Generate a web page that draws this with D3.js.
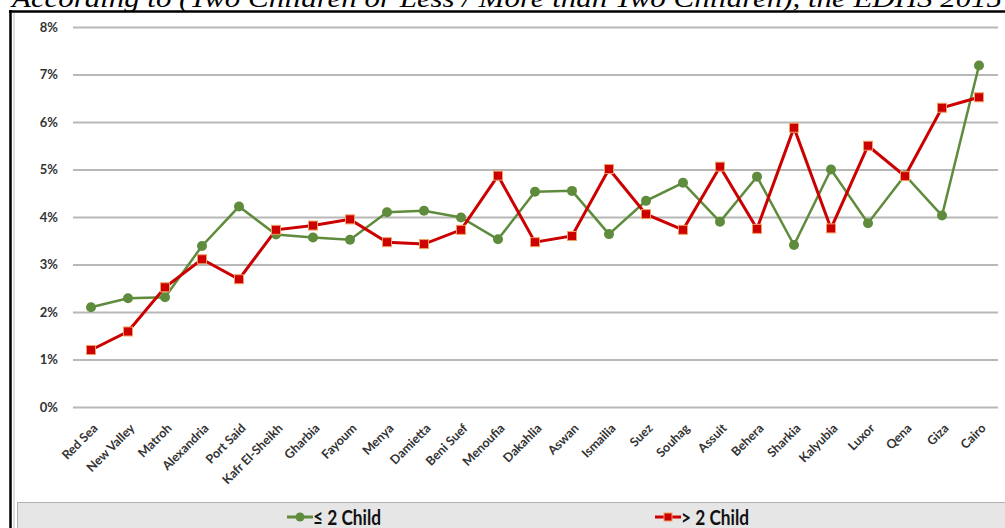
<!DOCTYPE html>
<html>
<head>
<meta charset="utf-8">
<script src="https://cdn.jsdelivr.net/npm/d3@7"></script>
<style>
  body { margin: 0; background: #fff; }
  svg { display: block; }
  .axis text { font-family: Lato, 'Open Sans', sans-serif; font-weight: bold; fill: #333; }
</style>
</head>
<body>
<div id="chart-area"></div>
<script>
const governorates = ['Red Sea', 'New Valley', 'Matroh', 'Alexandria', 'Port Said', 'Kafr El-Sheikh', 'Gharbia',
  'Fayoum', 'Menya', 'Damietta', 'Beni Suef', 'Menoufia', 'Dakahlia', 'Aswan', 'Ismailia', 'Suez', 'Souhag',
  'Assuit', 'Behera', 'Sharkia', 'Kalyubia', 'Luxor', 'Qena', 'Giza', 'Cairo'];
const twoOrLess = [2.10, 2.29, 2.31, 3.39, 4.22, 3.63, 3.57, 3.52, 4.10, 4.13, 3.99, 3.53, 4.53, 4.55, 3.64,
  4.34, 4.72, 3.90, 4.85, 3.41, 5.00, 3.87, 4.88, 4.03, 7.19];
const moreThanTwo = [1.20, 1.59, 2.52, 3.11, 2.69, 3.73, 3.82, 3.95, 3.47, 3.43, 3.73, 4.87, 3.47, 3.60, 5.01,
  4.06, 3.73, 5.06, 3.75, 5.88, 3.76, 5.50, 4.86, 6.30, 6.52];
const yTicks = [0, 1, 2, 3, 4, 5, 6, 7, 8];
const titleText = 'According to (Two Children or Less / More than Two Children), the EDHS 2015';

const chartSize = { width: 1005, height: 528 };
const plot = { left: 73, right: 998, top: 27, bottom: 407 };
const green = '#5e8c3c';
const red = '#cc0000';

const svg = d3.select('#chart-area').append('svg')
  .attr('width', chartSize.width)
  .attr('height', chartSize.height);

// title, cut off by the top of the page as in the source
svg.append('text')
  .attr('x', 12).attr('y', 7)
  .attr('textLength', 990)
  .attr('lengthAdjust', 'spacingAndGlyphs')
  .style('font-family', "'Liberation Serif', 'DejaVu Serif', serif")
  .style('font-style', 'italic')
  .style('font-size', '26px')
  .text(titleText);

// frame
svg.append('line').attr('x1', 9).attr('x2', 1005).attr('y1', 11.5).attr('y2', 11.5)
  .attr('stroke', '#000').attr('stroke-width', 2.5);
svg.append('line').attr('x1', 10.5).attr('x2', 10.5).attr('y1', 10).attr('y2', 528)
  .attr('stroke', '#000').attr('stroke-width', 2.5);
svg.append('line').attr('x1', 14).attr('x2', 14).attr('y1', 13).attr('y2', 528)
  .attr('stroke', '#bbb').attr('stroke-width', 1);

const x = d3.scalePoint()
  .domain(governorates)
  .range([91, 979]);

const y = d3.scaleLinear()
  .domain([0, 8])
  .range([plot.bottom, plot.top]);

// gridlines + y labels
const yAxis = d3.axisLeft(y)
  .tickValues(yTicks)
  .tickFormat(d => d + '%')
  .tickSize(-(plot.right - plot.left))
  .tickPadding(15);
const yG = svg.append('g')
  .attr('class', 'y axis')
  .attr('transform', `translate(${plot.left},0)`)
  .call(yAxis);
yG.select('.domain').remove();
yG.selectAll('.tick line').attr('stroke', '#b8b8b8').attr('stroke-width', 2);
yG.selectAll('.tick text').style('font-size', '13px');

// x labels
const xAxis = d3.axisBottom(x).tickSize(0);
const xG = svg.append('g')
  .attr('class', 'x axis')
  .attr('transform', `translate(0,${plot.bottom})`)
  .call(xAxis);
xG.select('.domain').remove();
xG.selectAll('.tick text')
  .style('font-size', '12.5px')
  .attr('text-anchor', 'end')
  .attr('y', 0)
  .attr('dy', 0)
  .attr('transform', 'translate(7,22) rotate(-45)');

const line = d3.line().x((d, i) => x(governorates[i])).y(d => y(d));

svg.append('path')
  .attr('d', line(twoOrLess))
  .attr('fill', 'none')
  .attr('stroke', green)
  .attr('stroke-width', 2.5);

svg.append('path')
  .attr('d', line(moreThanTwo))
  .attr('fill', 'none')
  .attr('stroke', red)
  .attr('stroke-width', 3);

svg.append('g').selectAll('circle')
  .data(twoOrLess)
  .enter().append('circle')
  .attr('cx', (d, i) => x(governorates[i]))
  .attr('cy', d => y(d))
  .attr('r', 5)
  .attr('fill', green);

svg.append('g').selectAll('rect')
  .data(moreThanTwo)
  .enter().append('rect')
  .attr('x', (d, i) => x(governorates[i]) - 4.5)
  .attr('y', d => y(d) - 4.5)
  .attr('width', 9)
  .attr('height', 9)
  .attr('fill', red)
  .attr('stroke', '#f0a060')
  .attr('stroke-width', 1);

// legend
svg.append('rect')
  .attr('x', 17.5).attr('y', 502.5)
  .attr('width', 1000).attr('height', 40)
  .attr('fill', '#e6e6e6')
  .attr('stroke', '#b0b0b0');

const legendItems = [
  { label: '≤ 2 Child', color: green, shape: 'circle', x: 287 },
  { label: '> 2 Child', color: red, shape: 'square', x: 655 }
];
const lg = svg.append('g').selectAll('g')
  .data(legendItems)
  .enter().append('g')
  .attr('transform', d => `translate(${d.x},517)`);
lg.append('line').attr('x1', 0).attr('x2', 26)
  .attr('stroke', d => d.color).attr('stroke-width', 3);
lg.filter(d => d.shape === 'circle').append('circle')
  .attr('cx', 13).attr('r', 4.5).attr('fill', d => d.color);
lg.filter(d => d.shape === 'square').append('rect')
  .attr('x', 9).attr('y', -4).attr('width', 8).attr('height', 8)
  .attr('fill', d => d.color).attr('stroke', '#f0a060');
lg.append('text')
  .attr('x', 26).attr('y', 8)
  .attr('textLength', 68)
  .attr('lengthAdjust', 'spacingAndGlyphs')
  .style('font-family', "Lato, 'Open Sans', sans-serif")
  .style('font-weight', 'bold')
  .style('font-size', '21px')
  .attr('fill', '#111')
  .text(d => d.label);
</script>
</body>
</html>
